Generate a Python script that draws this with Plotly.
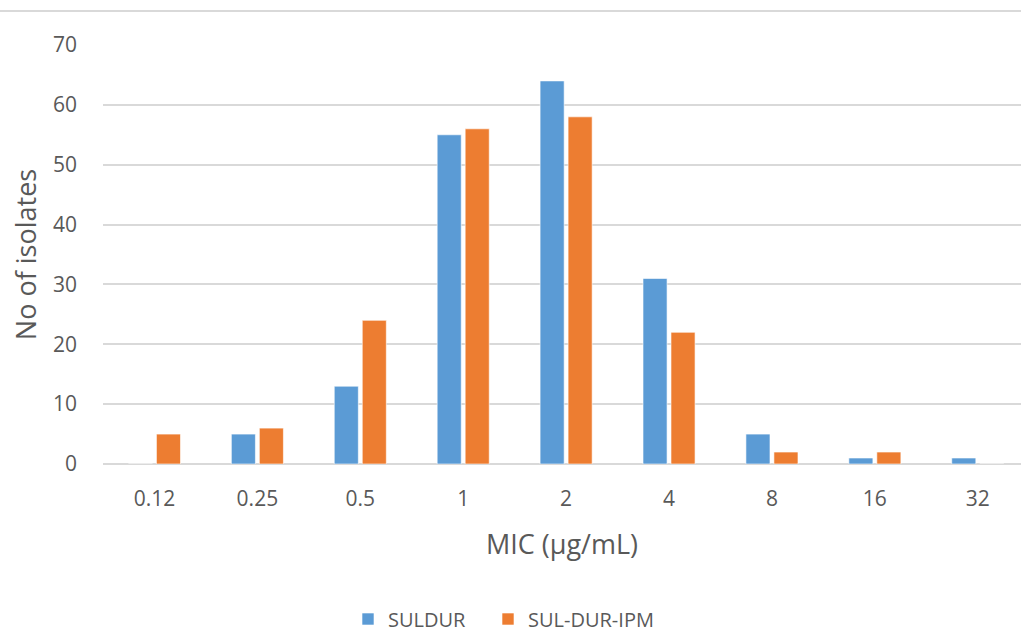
import plotly.graph_objects as go

# MIC distribution of isolates
mic_labels = ["0.12", "0.25", "0.5", "1", "2", "4", "8", "16", "32"]
suldur = [0, 5, 13, 55, 64, 31, 5, 1, 1]
sul_dur_ipm = [5, 6, 24, 56, 58, 22, 2, 2, 0]

BLUE = "#5B9BD5"
ORANGE = "#ED7D31"
GRID = "#D9D9D9"
TEXT = "#595959"
FONT = "Open Sans, Noto Sans, sans-serif"

fig = go.Figure()
fig.add_trace(go.Bar(
    x=list(range(len(mic_labels))), y=suldur, name="SULDUR",
    legend="legend", showlegend=True,
    marker=dict(color=BLUE, line=dict(color="rgba(255,255,255,0.6)", width=1)),
))
fig.add_trace(go.Bar(
    x=list(range(len(mic_labels))), y=sul_dur_ipm, name="SUL-DUR-IPM",
    legend="legend2", showlegend=True,
    marker=dict(color=ORANGE, line=dict(color="rgba(255,255,255,0.6)", width=1)),
))

legend_style = dict(
    orientation="h", xref="container", yref="container",
    xanchor="left", y=16 / 635, yanchor="middle",
    font=dict(size=20, color=TEXT), itemwidth=30, visible=True,
)

fig.update_layout(
    width=1021, height=635,
    margin=dict(l=103, r=0, t=45, b=171),
    paper_bgcolor="white", plot_bgcolor="white",
    showlegend=True,
    barmode="group", bargap=0.456, bargroupgap=0.14,
    font=dict(family=FONT, color=TEXT),
    legend=dict(x=348 / 1021, **legend_style),
    legend2=dict(x=488 / 1021, **legend_style),
    xaxis=dict(
        tickmode="array", tickvals=list(range(len(mic_labels))), ticktext=mic_labels,
        range=[-0.5, 8.42], showgrid=False, zeroline=False, showline=False,
        tickfont=dict(size=21, color=TEXT), ticks="", ticklabelstandoff=20,
        automargin=False,
        title=dict(text="MIC (µg/mL)", font=dict(size=27, color=TEXT), standoff=24),
    ),
    yaxis=dict(
        range=[0, 70], dtick=10, showgrid=True, gridcolor=GRID, gridwidth=1.5,
        zeroline=True, zerolinecolor=GRID, zerolinewidth=1.5,
        tickfont=dict(size=21, color=TEXT), ticks="", ticklabelstandoff=25,
        automargin=False,
        title=dict(text="No of isolates", font=dict(size=27, color=TEXT), standoff=8),
    ),
    shapes=[dict(
        type="line", xref="paper", yref="paper",
        x0=-103 / 918, x1=1, y0=(464 - 11) / 419, y1=(464 - 11) / 419,
        line=dict(color=GRID, width=2),
    )],
)

fig.write_html("out.html")
